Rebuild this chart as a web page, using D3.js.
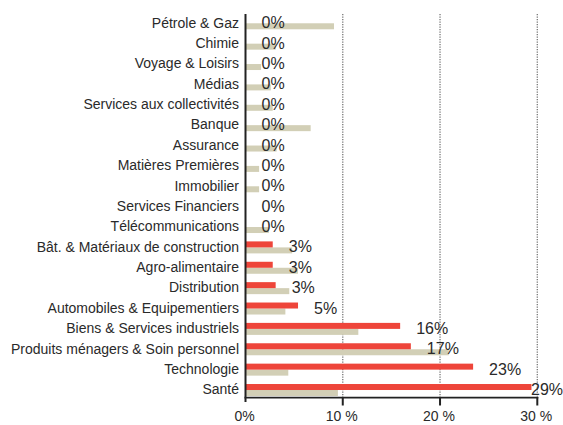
<!DOCTYPE html>
<html>
<head>
<meta charset="utf-8">
<script src="https://cdn.jsdelivr.net/npm/d3@7"></script>
<style>
html,body{margin:0;padding:0;background:#fff;}
svg{display:block;}
text{font-family:"Liberation Sans",Arial,Helvetica,sans-serif;fill:#2a2a2a;}
</style>
</head>
<body>
<svg id="chart" width="563" height="425"></svg>
<script>
const categories = ["Pétrole & Gaz","Chimie","Voyage & Loisirs","Médias","Services aux collectivités","Banque","Assurance","Matières Premières","Immobilier","Services Financiers","Télécommunications","Bât. & Matériaux de construction","Agro-alimentaire","Distribution","Automobiles & Equipementiers","Biens & Services industriels","Produits ménagers & Soin personnel","Technologie","Santé"];
const portfolio = [0,0,0,0,0,0,0,0,0,0,0,2.8,2.8,3.1,5.4,15.9,17.0,23.4,29.4];
const benchmark = [9.1,3.1,1.6,2.6,2.8,6.7,3.2,1.4,1.4,0,2.4,4.8,5.4,4.5,4.1,11.6,20.9,4.4,9.5];
const xTicks = [0,10,20,30];
const xTickLabels = ["0%","10 %","20 %","30 %"];

const svg = d3.select("#chart");
const x = d3.scaleLinear().domain([0,30]).range([245.5,537.3]);
const y = d3.scaleBand().domain(categories).range([13.1,400.2]).padding(0);
const barH = 6;

// gridlines
svg.append("g").selectAll("line").data(xTicks.slice(1)).join("line")
  .attr("x1",d=>x(d)).attr("x2",d=>x(d))
  .attr("y1",14).attr("y2",397)
  .attr("stroke","#777").attr("stroke-width",1.3).attr("stroke-dasharray","1.2,1.3");

const rows = categories.map((c,i)=>({c, p:portfolio[i], b:benchmark[i]}));
const mid = d => y(d.c) + y.bandwidth()/2;

// benchmark bars
svg.append("g").selectAll("rect").data(rows).join("rect")
  .attr("x",x(0)).attr("y",d=>mid(d))
  .attr("width",d=>x(d.b)-x(0)).attr("height",barH)
  .attr("fill","#d2cfb6");
// portfolio bars
svg.append("g").selectAll("rect").data(rows).join("rect")
  .attr("x",x(0)).attr("y",d=>mid(d)-barH)
  .attr("width",d=>x(d.p)-x(0)).attr("height",barH)
  .attr("fill","#ee453a");

// value labels
svg.append("g").selectAll("text").data(rows).join("text")
  .attr("x",d=>Math.min(x(d.p)+16,531))
  .attr("y",d=>mid(d)+5)
  .attr("font-size","16px")
  .text(d=>Math.round(d.p)+"%");

// category labels
svg.append("g").selectAll("text").data(rows).join("text")
  .attr("x",239).attr("y",d=>mid(d)+4.3)
  .attr("text-anchor","end").attr("font-size","14px")
  .text(d=>d.c);

// axes
svg.append("line").attr("x1",x(0)).attr("x2",x(0)).attr("y1",14).attr("y2",402)
  .attr("stroke","#222").attr("stroke-width",2);
svg.append("line").attr("x1",x(0)-1).attr("x2",x(30)+1).attr("y1",397.6).attr("y2",397.6)
  .attr("stroke","#222").attr("stroke-width",1.6);
svg.append("g").selectAll("line").data(xTicks.slice(1)).join("line")
  .attr("x1",d=>x(d)).attr("x2",d=>x(d)).attr("y1",397).attr("y2",405.5)
  .attr("stroke","#222").attr("stroke-width",2);
svg.append("g").selectAll("text").data(xTicks).join("text")
  .attr("x",d=>x(d)-1).attr("y",421)
  .attr("text-anchor","middle").attr("font-size","14px")
  .text((d,i)=>xTickLabels[i]);
</script>
</body>
</html>
